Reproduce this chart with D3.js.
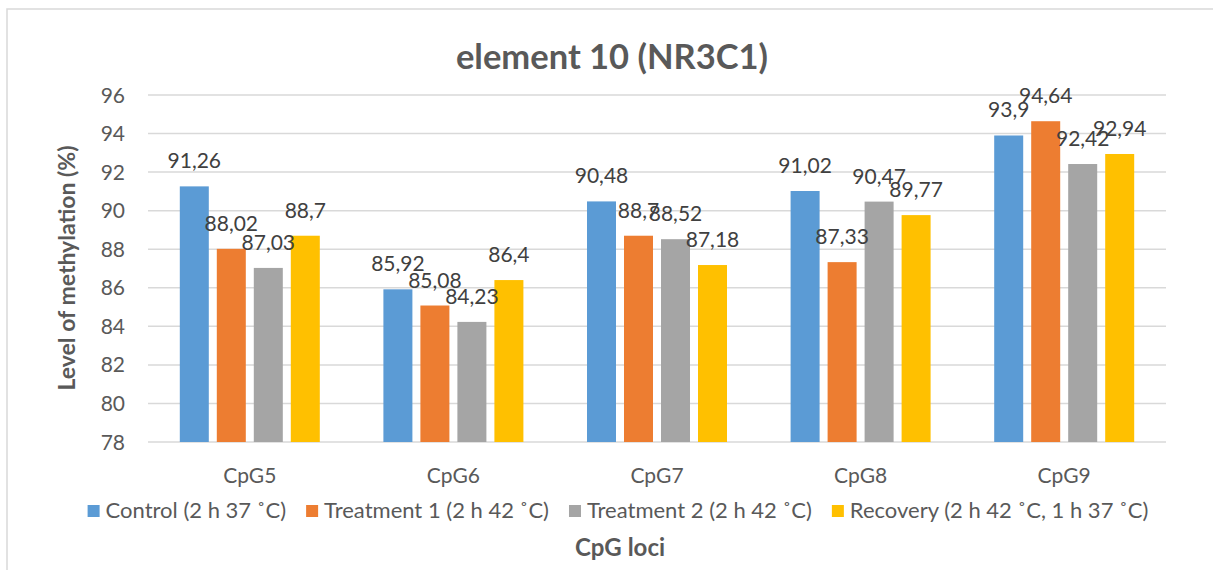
<!DOCTYPE html>
<html><head><meta charset="utf-8">
<script src="https://cdn.jsdelivr.net/npm/d3@7"></script>
<style>body{margin:0;background:#fff}svg{display:block}text{font-family:Lato,"Open Sans",sans-serif}</style>
</head><body>
<script>
const categories = ["CpG5","CpG6","CpG7","CpG8","CpG9"];
const seriesNames = ["Control (2 h 37 ˚C)","Treatment 1 (2 h 42 ˚C)","Treatment 2 (2 h 42 ˚C)","Recovery (2 h 42 ˚C, 1 h 37 ˚C)"];
const control   = [91.26, 85.92, 90.48, 91.02, 93.9];
const treatment1= [88.02, 85.08, 88.7, 87.33, 94.64];
const treatment2= [87.03, 84.23, 88.52, 90.47, 92.42];
const recovery  = [88.7, 86.4, 87.18, 89.77, 92.94];
const yTicks = [78,80,82,84,86,88,90,92,94,96];
const colors = ["#5B9BD5","#ED7D31","#A5A5A5","#FFC000"];
const seriesValues = [control, treatment1, treatment2, recovery];

(function(){
const W = 1213, H = 570;
const svg = d3.select("body").append("svg").attr("width", W).attr("height", H);
svg.append("rect").attr("x",7).attr("y",9).attr("width",W+10).attr("height",H+10)
  .attr("fill","#fff").attr("stroke","#d9d9d9").attr("stroke-width",1.5);

const pLeft = 148, pRight = 1166, pTop = 95, pBottom = 442;
const x0 = d3.scaleBand().domain(categories).range([pLeft, pRight]);
const x1 = d3.scaleBand().domain(d3.range(4)).range([-70, 70]).paddingInner(8/37);
const y = d3.scaleLinear().domain([78, 96]).range([pBottom, pTop]);

svg.append("g").selectAll("line").data(yTicks).join("line")
  .attr("x1", pLeft).attr("x2", pRight)
  .attr("y1", d => y(d)).attr("y2", d => y(d))
  .attr("stroke", "#d9d9d9").attr("stroke-width", 1.5);

svg.append("g").selectAll("text").data(yTicks).join("text")
  .attr("x", 125).attr("y", d => y(d)).attr("dy", "0.36em")
  .attr("text-anchor", "end").attr("font-size", 21).attr("fill", "#595959")
  .text(d => d);

svg.append("g").selectAll("text").data(categories).join("text")
  .attr("x", d => x0(d) + x0.bandwidth()/2).attr("y", 483)
  .attr("text-anchor", "middle").attr("font-size", 21).attr("fill", "#595959")
  .text(d => d);

const fmt = v => String(v).replace(".", ",");
const groups = svg.append("g").selectAll("g").data(categories).join("g")
  .attr("transform", d => `translate(${x0(d) + x0.bandwidth()/2},0)`);
groups.each(function(cat, ci) {
  const g = d3.select(this);
  const vals = seriesValues.map(s => s[ci]);
  g.selectAll("rect").data(vals).join("rect")
    .attr("x", (d,i) => x1(i)).attr("width", x1.bandwidth())
    .attr("y", d => y(d)).attr("height", d => pBottom - y(d))
    .attr("fill", (d,i) => colors[i]);
  g.selectAll("text").data(vals).join("text")
    .attr("x", (d,i) => x1(i) + x1.bandwidth()/2).attr("y", d => y(d) - 18)
    .attr("text-anchor", "middle").attr("font-size", 21).attr("fill", "#404040")
    .text(d => fmt(d));
});

svg.append("text").attr("x", 612).attr("y", 69).attr("text-anchor", "middle")
  .attr("font-size", 34.5).attr("font-weight", "bold").attr("fill", "#595959")
  .text("element 10 (NR3C1)");

svg.append("text").attr("transform", "translate(75,268) rotate(-90)")
  .attr("text-anchor", "middle").attr("font-size", 23).attr("font-weight", "bold").attr("fill", "#595959")
  .text("Level of methylation (%)");

svg.append("text").attr("x", 620).attr("y", 556).attr("text-anchor", "middle")
  .attr("font-size", 24).attr("font-weight", "bold").attr("fill", "#595959")
  .text("CpG loci");

const leg = svg.append("g");
const items = leg.selectAll("g").data(seriesNames).join("g");
items.append("rect").attr("width", 12).attr("height", 12).attr("y", 505).attr("fill", (d,i) => colors[i]);
items.append("text").attr("x", 18).attr("y", 518).attr("font-size", 22).attr("fill", "#595959").text(d => d);
let xpos = 0; const offs = [];
items.each(function(){ offs.push(xpos); xpos += 18 + d3.select(this).select("text").node().getComputedTextLength() + 20; });
const total = xpos - 20;
items.attr("transform", (d,i) => `translate(${618 - total/2 + offs[i]},0)`);
})();
</script>
</body></html>
